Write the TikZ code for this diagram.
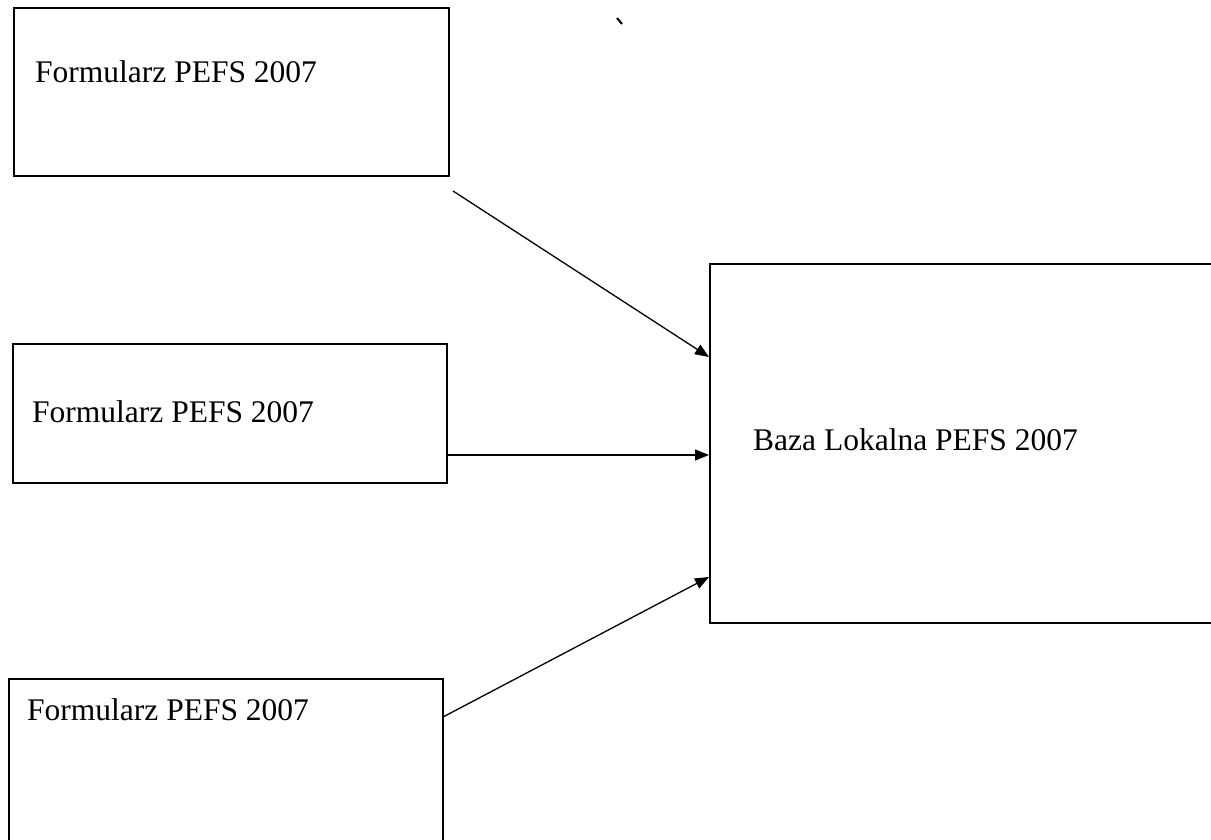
\documentclass[tikz,border=0pt]{standalone}
\usepackage{fontspec}
\setmainfont{Liberation Serif}
\usetikzlibrary{arrows.meta}
\begin{document}
\begin{tikzpicture}[x=1pt,y=-1pt,
  box/.style={draw=black,line width=1.8pt,rectangle,inner sep=0pt,anchor=north west},
  lbl/.style={anchor=base west,inner sep=0pt,font=\fontsize{31.5}{36}\selectfont},
  conn/.style={line width=1.3pt,-{Triangle[length=14pt,width=11pt]}}]
\useasboundingbox[fill=white] (0,0) rectangle (1211,840);
\clip (0,0) rectangle (1211,840);
% boxes
\node[box,minimum width=435pt,minimum height=168pt] (f1) at (13,7) {};
\node[box,minimum width=434pt,minimum height=139pt] (f2) at (12,343) {};
\node[box,minimum width=434pt,minimum height=190pt] (f3) at (8,678) {};
\node[box,minimum width=530pt,minimum height=359pt] (baza) at (709,263) {};
% labels
\node[lbl] (t1) at (35,83) {Formularz PEFS 2007};
\node[lbl] (t2) at (32,422) {Formularz PEFS 2007};
\node[lbl] (t3) at (27,720) {Formularz PEFS 2007};
\node[lbl] (t4) at (753,450) {Baza Lokalna PEFS 2007};
% connector end points
\coordinate (s1) at (453,191);
\coordinate (s2) at (448,455);
\coordinate (s3) at (443,717);
\coordinate (e1) at (baza.north west |- 0,357);
\coordinate (e2) at (baza.north west |- 0,455);
\coordinate (e3) at (baza.north west |- 0,577);
\draw[conn] (s1) -- (e1);
\draw[conn] (s2) -- (e2);
\draw[conn] (s3) -- (e3);
% small scan mark
\coordinate (m1) at (617,18);
\coordinate (m2) at (622,24);
\draw[line width=2pt] (m1) -- (m2);
\end{tikzpicture}
\end{document}
